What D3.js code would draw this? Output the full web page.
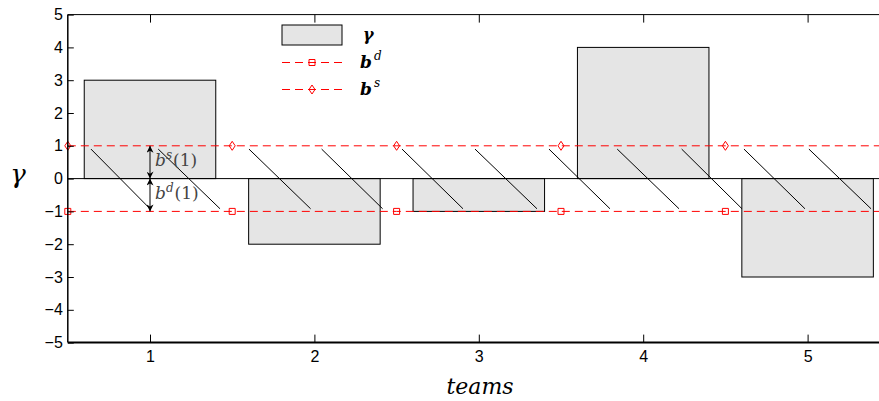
<!DOCTYPE html>
<html>
<head>
<meta charset="utf-8">
<script src="https://cdn.jsdelivr.net/npm/d3@7"></script>
<style>
  body { margin: 0; background: #fff; }
  svg { display: block; }
</style>
</head>
<body>
<svg id="chart" width="879" height="401"></svg>
<script>
// ---- data ----
const teams = [1, 2, 3, 4, 5];
const gamma = [3, -2, -1, 4, -3];
const boundaryX = [0.5, 1.5, 2.5, 3.5, 4.5, 5.5];
const bdValues = [-1, -1, -1, -1, -1, -1];
const bsValues = [1, 1, 1, 1, 1, 1];
const hatchStartX = [0.641, 1.050, 1.602, 2.044, 2.533, 2.977, 3.427, 3.842, 4.234, 4.613, 5.008];
const hatchEndX   = [1.000, 1.426, 1.977, 2.415, 2.904, 3.354, 3.798, 4.218, 4.601, 4.984, 5.386];
const hatchTopY = 0.9;
const hatchBottomY = -0.92;
const yTicks = [-5, -4, -3, -2, -1, 0, 1, 2, 3, 4, 5];
const xTicks = [1, 2, 3, 4, 5];
const annotTeam = 1;

// ---- layout ----
const svg = d3.select("#chart");
const x = d3.scaleLinear().domain([0.5, 5.5]).range([67.8, 889.8]);
const y = d3.scaleLinear().domain([-5, 5]).range([342.6, 14.6]);
const barWidth = 0.8;
const tickFont = "Liberation Sans, Arial, sans-serif";

// bars
svg.append("g").selectAll("rect").data(teams).join("rect")
  .attr("x", (d) => x(d - barWidth / 2))
  .attr("width", x(barWidth) - x(0))
  .attr("y", (d, i) => y(Math.max(0, gamma[i])))
  .attr("height", (d, i) => Math.abs(y(gamma[i]) - y(0)))
  .attr("fill", "#e5e5e5")
  .attr("stroke", "#000")
  .attr("stroke-width", 1);

// zero line
svg.append("line")
  .attr("x1", x(0.5)).attr("x2", x(5.5))
  .attr("y1", y(0)).attr("y2", y(0))
  .attr("stroke", "#000").attr("stroke-width", 1);

// dashed lines b^d and b^s
const lineGen = d3.line().x((d) => x(d[0])).y((d) => y(d[1]));
[bdValues, bsValues].forEach((vals) => {
  svg.append("path")
    .attr("d", lineGen(boundaryX.map((bx, i) => [bx, vals[i]])))
    .attr("fill", "none")
    .attr("stroke", "#ff0000")
    .attr("stroke-width", 1)
    .attr("stroke-dasharray", "8,5");
});

// hatch lines
svg.append("g").selectAll("line").data(hatchStartX).join("line")
  .attr("x1", (d) => x(d)).attr("y1", y(hatchTopY))
  .attr("x2", (d, i) => x(hatchEndX[i])).attr("y2", y(hatchBottomY))
  .attr("stroke", "#000").attr("stroke-width", 1);

// markers
function squarePath(cx, cy, s) {
  return `M${cx - s},${cy - s}h${2 * s}v${2 * s}h${-2 * s}Z`;
}
function diamondPath(cx, cy, w, h) {
  return `M${cx},${cy - h}L${cx + w},${cy}L${cx},${cy + h}L${cx - w},${cy}Z`;
}
svg.append("g").selectAll("path").data(boundaryX).join("path")
  .attr("d", (d, i) => squarePath(x(d), y(bdValues[i]), 3))
  .attr("fill", "none").attr("stroke", "#ff0000").attr("stroke-width", 1);
svg.append("g").selectAll("path").data(boundaryX).join("path")
  .attr("d", (d, i) => diamondPath(x(d), y(bsValues[i]), 3, 4.5))
  .attr("fill", "none").attr("stroke", "#ff0000").attr("stroke-width", 1);

// axes
const yAxis = d3.axisLeft(y).tickValues(yTicks).tickSize(-6).tickPadding(5)
  .tickFormat((d) => d < 0 ? "\u2212" + Math.abs(d) : String(d));
const gy = svg.append("g").attr("transform", `translate(${x(0.5)},0)`).call(yAxis);
gy.select(".domain").remove();
gy.selectAll(".tick line").attr("stroke", "#000");
gy.selectAll(".tick text").style("font-family", tickFont).style("font-size", "16px").attr("fill", "#000");

const xAxis = d3.axisBottom(x).tickValues(xTicks).tickSize(-8).tickPadding(8).tickFormat(d3.format("d"));
const gx = svg.append("g").attr("transform", `translate(0,${y(-5)})`).call(xAxis);
gx.select(".domain").remove();
gx.selectAll(".tick line").attr("stroke", "#000");
gx.selectAll(".tick text").style("font-family", tickFont).style("font-size", "16px").attr("fill", "#000");

const xTop = d3.axisTop(x).tickValues(xTicks).tickSize(-8).tickFormat("");
const gt = svg.append("g").attr("transform", `translate(0,${y(5)})`).call(xTop);
gt.select(".domain").remove();
gt.selectAll(".tick line").attr("stroke", "#000");

// frame lines
svg.append("line").attr("x1", x(0.5)).attr("x2", x(0.5)).attr("y1", y(5)).attr("y2", y(-5))
  .attr("stroke", "#000").attr("stroke-width", 1.5);
svg.append("line").attr("x1", x(0.5)).attr("x2", x(5.5)).attr("y1", y(-5)).attr("y2", y(-5))
  .attr("stroke", "#000").attr("stroke-width", 2);
svg.append("line").attr("x1", x(0.5)).attr("x2", x(5.5)).attr("y1", y(5)).attr("y2", y(5))
  .attr("stroke", "#000").attr("stroke-width", 1);

// axis labels
svg.append("text")
  .attr("x", 18).attr("y", y(0) + 4)
  .attr("text-anchor", "middle")
  .attr("font-family", "DejaVu Serif, serif")
  .attr("font-style", "italic")
  .attr("font-size", 26)
  .text("\u03B3");
svg.append("text")
  .attr("x", 480).attr("y", 394)
  .attr("text-anchor", "middle")
  .attr("font-family", "DejaVu Serif, serif")
  .attr("font-style", "italic")
  .attr("font-size", 22)
  .text("teams");

// annotation arrows
const defs = svg.append("defs");
defs.append("marker").attr("id", "ah")
  .attr("viewBox", "0 0 10 10").attr("refX", 10).attr("refY", 5)
  .attr("markerWidth", 8).attr("markerHeight", 7).attr("markerUnits", "userSpaceOnUse")
  .attr("orient", "auto-start-reverse")
  .append("path").attr("d", "M0,0L10,5L0,10L3,5Z").attr("fill", "#000");
const ax = x(annotTeam);
[[bsValues[0], 0], [0, bdValues[0]]].forEach(([a, b]) => {
  svg.append("line")
    .attr("x1", ax).attr("x2", ax).attr("y1", y(a)).attr("y2", y(b))
    .attr("stroke", "#000").attr("stroke-width", 1)
    .attr("marker-start", "url(#ah)").attr("marker-end", "url(#ah)");
});
function annot(txt, sup, yy) {
  const t = svg.append("text").attr("x", ax + 5).attr("y", yy)
    .attr("font-family", "DejaVu Serif, serif").attr("font-size", 17).attr("fill", "#444");
  t.append("tspan").attr("font-style", "italic").text(txt);
  t.append("tspan").attr("font-style", "italic").attr("font-size", 12).attr("dy", -7).text(sup);
  t.append("tspan").attr("dy", 7).attr("dx", 1).text("(1)");
}
annot("b", "s", y(0.38));
annot("b", "d", y(-0.62));

// legend
const lg = svg.append("g");
lg.append("rect").attr("x", 282).attr("y", 25).attr("width", 60).attr("height", 20)
  .attr("fill", "#e5e5e5").attr("stroke", "#000").attr("stroke-width", 1);
lg.append("text").attr("x", 363).attr("y", 40)
  .attr("font-family", "DejaVu Serif, serif").attr("font-weight", "bold").attr("font-style", "italic")
  .attr("font-size", 16).text("\u03B3");
const legendLines = [{ y: 62.5, label: "d", type: "sq" }, { y: 89.5, label: "s", type: "di" }];
legendLines.forEach((l) => {
  lg.append("line").attr("x1", 282).attr("x2", 342).attr("y1", l.y).attr("y2", l.y)
    .attr("stroke", "#ff0000").attr("stroke-dasharray", "8,5").attr("stroke-width", 1);
  lg.append("path").attr("d", l.type === "sq" ? squarePath(312, l.y, 3) : diamondPath(312, l.y, 3, 4.5))
    .attr("fill", "none").attr("stroke", "#ff0000");
  const t = lg.append("text").attr("x", 360).attr("y", l.y + 5)
    .attr("font-family", "DejaVu Serif, serif").attr("font-size", 17);
  t.append("tspan").attr("font-weight", "bold").attr("font-style", "italic").text("b");
  t.append("tspan").attr("font-style", "italic").attr("font-size", 12).attr("dy", -8).attr("dx", 2).text(l.label);
});
</script>
</body>
</html>
